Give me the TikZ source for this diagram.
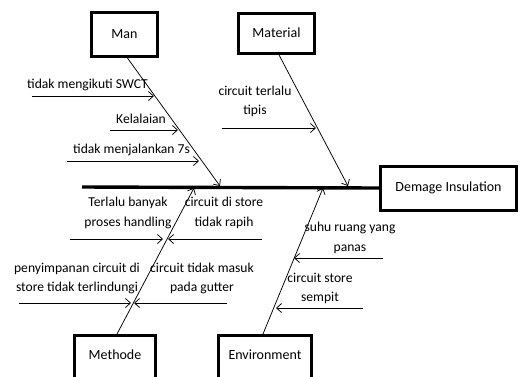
\documentclass[tikz,border=0pt]{standalone}
\usepackage{fontspec}
\setmainfont{Carlito}
\usetikzlibrary{arrows.meta}
\begin{document}
\begin{tikzpicture}[x=1pt,y=-1pt,
  catbox/.style={draw,line width=3pt,minimum width=#1,minimum height=44pt,inner sep=0pt,font=\fontsize{14}{16}\selectfont},
  bone/.style={line width=0.7pt},
  causearrow/.style={line width=0.75pt,-{Straight Barb[length=5pt,width=9pt,line width=0.75pt]}},
  lbl/.style={inner sep=0pt,align=center,font=\fontsize{13.6}{19.5}\selectfont}]
\useasboundingbox (0,0) rectangle (521,376);
% boxes
\node[catbox=66pt] (man) at (124.5,34) {Man};
\node[catbox=76pt,minimum height=40pt] (mat) at (276.5,33) {Material};
\node[catbox=136pt] (eff) at (448.5,188) {Demage Insulation};
\node[catbox=81pt] (met) at (115,357) {\raisebox{4pt}{Methode}};
\node[catbox=93pt] (env) at (265,357) {\raisebox{4pt}{Environment}};
% spine
\coordinate (head) at (82,187);
\draw[line width=3.4pt] (head) -- (eff.west);
% bone ends on spine
\coordinate (sMan) at (220,186);
\coordinate (sMat) at (348,186);
\coordinate (sMet) at (194,188);
\coordinate (sEnv) at (323,188);
\coordinate (bMan) at (126,56);
\coordinate (bMat) at (278,53);
\coordinate (bMet) at (117,334);
\coordinate (bEnv) at (263,334);
\draw[causearrow] (bMan) -- (sMan);
\draw[causearrow] (bMat) -- (sMat);
\draw[causearrow] (bMet) -- (sMet);
\draw[causearrow] (bEnv) -- (sEnv);
% cause arrows - Man
\coordinate (a1s) at (32,96);   \coordinate (a1e) at (154,96);
\coordinate (a2s) at (110,130); \coordinate (a2e) at (178,130);
\coordinate (a3s) at (67,161);  \coordinate (a3e) at (199,161);
\draw[causearrow] (a1s) -- (a1e);
\draw[causearrow] (a2s) -- (a2e);
\draw[causearrow] (a3s) -- (a3e);
\node[lbl,anchor=west] (t1) at (27,85) {tidak mengikuti SWCT};
\node[lbl] (t2) at (141,119) {Kelalaian};
\node[lbl,anchor=west] (t3) at (73,150) {tidak menjalankan 7s};
% Material
\coordinate (b1s) at (222,128); \coordinate (b1e) at (316,128);
\draw[causearrow] (b1s) -- (b1e);
\node[lbl] (t4) at (255,101.5) {circuit terlalu\\tipis};
% Methode
\coordinate (c1s) at (70,239);  \coordinate (c1e) at (163,239);
\coordinate (c2s) at (262,239); \coordinate (c2e) at (168,239);
\coordinate (c3s) at (19,303);  \coordinate (c3e) at (131,303);
\coordinate (c4s) at (227,303); \coordinate (c4e) at (134,303);
\draw[causearrow] (c1s) -- (c1e);
\draw[causearrow] (c2s) -- (c2e);
\draw[causearrow] (c3s) -- (c3e);
\draw[causearrow] (c4s) -- (c4e);
\node[lbl] (t5) at (128,213) {Terlalu banyak\\proses handling};
\node[lbl] (t6) at (224,213) {circuit di store\\tidak rapih};
\node[lbl] (t7) at (77,278.5) {penyimpanan circuit di\\store tidak terlindungi};
\node[lbl] (t8) at (202,278.5) {circuit tidak masuk\\pada gutter};
% Environment
\coordinate (d1s) at (383,258); \coordinate (d1e) at (294,258);
\coordinate (d2s) at (363,308); \coordinate (d2e) at (276,308);
\draw[causearrow] (d1s) -- (d1e);
\draw[causearrow] (d2s) -- (d2e);
\node[lbl] (t9) at (350,238) {suhu ruang yang\\panas};
\node[lbl] (t10) at (320,288.5) {circuit store\\sempit};
\end{tikzpicture}
\end{document}
